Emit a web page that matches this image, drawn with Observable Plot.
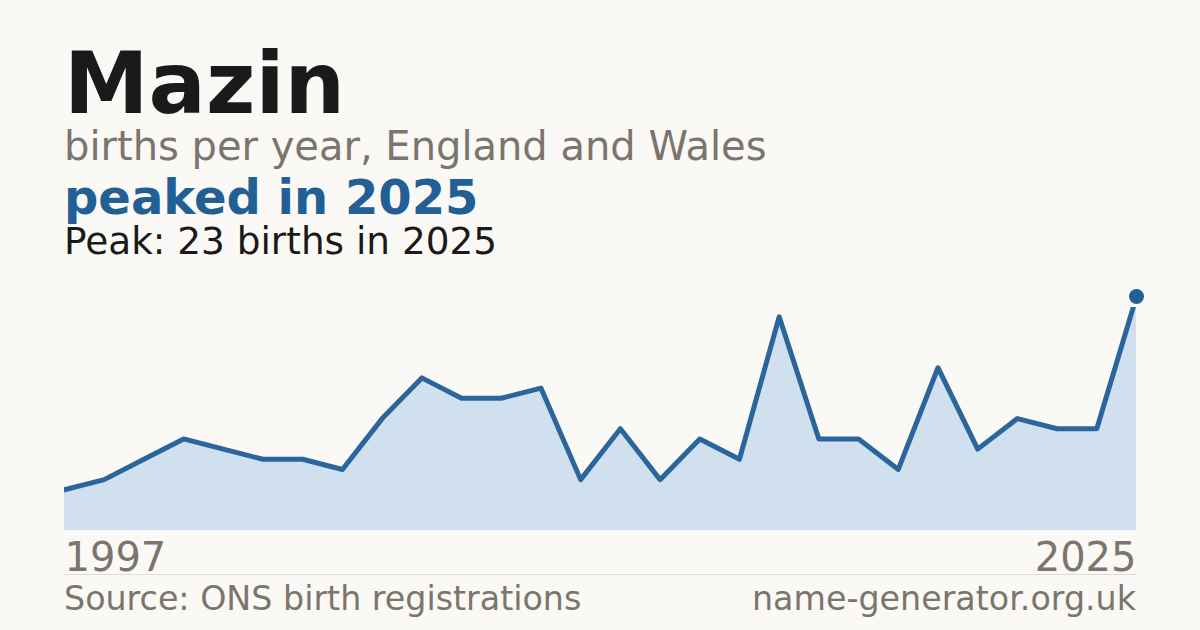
<!DOCTYPE html>
<html>
<head>
<meta charset="utf-8">
<script src="https://cdn.jsdelivr.net/npm/d3@7"></script>
<script src="https://cdn.jsdelivr.net/npm/@observablehq/plot@0.6"></script>
<style>
  html, body { margin: 0; padding: 0; background: #faf9f5; width: 1200px; height: 630px; overflow: hidden; }
  body { position: relative; font-family: "DejaVu Sans", sans-serif; }
  .t { position: absolute; left: 64px; line-height: 0.8; white-space: nowrap; }
  #title { top: 49.6px; font-size: 85px; font-weight: bold; color: #1a1a1a; }
  #sub { top: 130.2px; font-size: 40px; color: #7a756d; }
  #hl { top: 178.2px; font-size: 48px; font-weight: bold; color: #215f95; }
  #peak { top: 227px; font-size: 37.4px; color: #1a1a1a; }
  #rule { position: absolute; left: 64px; width: 1072px; top: 574px; height: 1px; background: #dedad2; }
  .foot { position: absolute; top: 586px; font-size: 33.3px; line-height: 0.8; color: #7a756d; white-space: nowrap; }
  #src { left: 64px; }
  #site { right: 64px; }
  #chart { position: absolute; left: 0; top: 280px; }
</style>
</head>
<body>
<div class="t" id="title">Mazin</div>
<div class="t" id="sub">births per year, England and Wales</div>
<div class="t" id="hl">peaked in 2025</div>
<div class="t" id="peak">Peak: 23 births in 2025</div>
<div id="chart"></div>
<div id="rule"></div>
<div class="foot" id="src">Source: ONS birth registrations</div>
<div class="foot" id="site">name-generator.org.uk</div>
<script>
// births per year, plotted in order (first year 1997, last year 2025)
const births = [4, 5, 7, 9, 8, 7, 7, 6, 11, 15, 13, 13, 14, 5, 10, 5, 9, 7, 21, 9, 9, 6, 16, 8, 11, 10, 10, 23];
const firstYear = "1997";
const lastYear = "2025";
const peakValue = 23;

const idx = births.map((_, i) => i);
const last = births.length - 1;
const blue = "#215f95";
const grey = "#7a756d";

const chart = Plot.plot({
  width: 1200,
  height: 300,
  marginLeft: 64,
  marginRight: 64,
  marginTop: 27,
  marginBottom: 50,
  x: { domain: [0, last], axis: null },
  y: { domain: [0, peakValue], range: [250, 16], axis: null },
  style: { background: "transparent", fontFamily: "DejaVu Sans", overflow: "visible" },
  marks: [
    Plot.areaY(idx, { x: i => i, y: i => births[i], fill: "#d0e0ef", clip: true }),
    Plot.line(idx, { x: i => i, y: i => births[i], stroke: "#2a659b", strokeWidth: 5, clip: true }),
    Plot.dot([last], { x: i => i, y: i => births[i], r: 7.5, fill: blue, stroke: null }),
    Plot.text([0], { x: i => i, text: () => firstYear, frameAnchor: "bottom", dy: 40, lineAnchor: "bottom", textAnchor: "start", fontSize: 40, fill: grey }),
    Plot.text([last], { x: i => i, text: () => lastYear, frameAnchor: "bottom", dy: 40, lineAnchor: "bottom", textAnchor: "end", fontSize: 40, fill: grey })
  ]
});
document.getElementById("chart").appendChild(chart);
</script>
</body>
</html>
